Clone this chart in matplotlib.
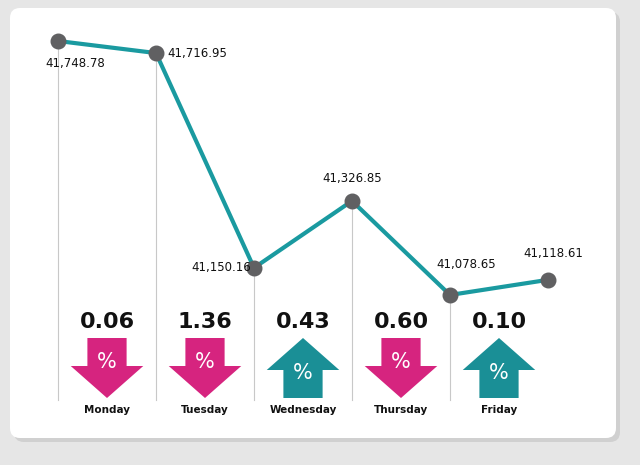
import matplotlib
matplotlib.use("Agg")
import matplotlib.pyplot as plt
from matplotlib.patches import FancyBboxPatch, Polygon

closes = [41748.78, 41716.95, 41150.16, 41326.85, 41078.65, 41118.61]
close_labels = ["41,748.78", "41,716.95", "41,150.16", "41,326.85", "41,078.65", "41,118.61"]
days = ["Monday", "Tuesday", "Wednesday", "Thursday", "Friday"]
changes = ["0.06", "1.36", "0.43", "0.60", "0.10"]
direction = ["down", "down", "up", "down", "up"]

W, H = 640, 465
fig = plt.figure(figsize=(W/100, H/100), dpi=100)
fig.patch.set_facecolor("#e6e6e6")
bg = fig.add_axes([0, 0, 1, 1]); bg.set_xlim(0, W); bg.set_ylim(H, 0); bg.axis("off")
bg.add_patch(FancyBboxPatch((14, 12), 606, 430, boxstyle="round,pad=0,rounding_size=10",
                            fc="#d0d0d0", ec="none"))
bg.add_patch(FancyBboxPatch((10, 8), 606, 430, boxstyle="round,pad=0,rounding_size=10",
                            fc="white", ec="none"))

ax = fig.add_axes([0, 0, 1, 1]); ax.axis("off"); ax.patch.set_alpha(0)
scale = 0.379
top = closes[0] + 41/scale
bot = closes[0] - (H-41)/scale
ax.set_ylim(bot, top)
ax.set_xlim(-58/98, (W-58)/98)
def py(p):  # pixel row -> value
    return top - p/scale

xs = list(range(len(closes)))
for i in range(5):
    ax.plot([i, i], [closes[i], py(400)], color="#c8c8c8", lw=0.8, zorder=1)
ax.plot(xs, closes, color="#1a9aa0", lw=3, zorder=2)
ax.scatter(xs, closes, s=110, color="#606062", zorder=3)

offs = [(0.18, 22, "center"), (0.12, 0, "left"), (-0.03, 0, "right"),
        (0, -22, "center"), (0.17, -30, "center"), (0.05, -26, "center")]
for i, (dx, dy, ha) in enumerate(offs):
    yv = closes[i] - dy/scale
    ax.text(i+dx, yv, close_labels[i], ha=ha, va="center", fontsize=8.5,
            family="Liberation Sans Narrow", color="#111")

for i in range(5):
    cx = i + 0.5
    col = "#d6247f" if direction[i] == "down" else "#1a8f96"
    ax.text(cx, py(322), changes[i], ha="center", va="center", fontsize=16,
            fontweight="bold", color="#111")
    ax.text(cx, py(410), days[i], ha="center", va="center", fontsize=7.5,
            fontweight="bold", color="#111")
    hw, sw = 0.37, 0.2
    if direction[i] == "down":
        pts = [(cx-sw, py(338)), (cx+sw, py(338)), (cx+sw, py(366)), (cx+hw, py(366)),
               (cx, py(398)), (cx-hw, py(366)), (cx-sw, py(366))]
        ty = py(362)
    else:
        pts = [(cx-sw, py(398)), (cx+sw, py(398)), (cx+sw, py(370)), (cx+hw, py(370)),
               (cx, py(338)), (cx-hw, py(370)), (cx-sw, py(370))]
        ty = py(373)
    ax.add_patch(Polygon(pts, closed=True, fc=col, ec="none"))
    ax.text(cx, ty, "%", ha="center", va="center", fontsize=15, color="white")

fig.savefig("out.png", dpi=100, facecolor=fig.get_facecolor())
